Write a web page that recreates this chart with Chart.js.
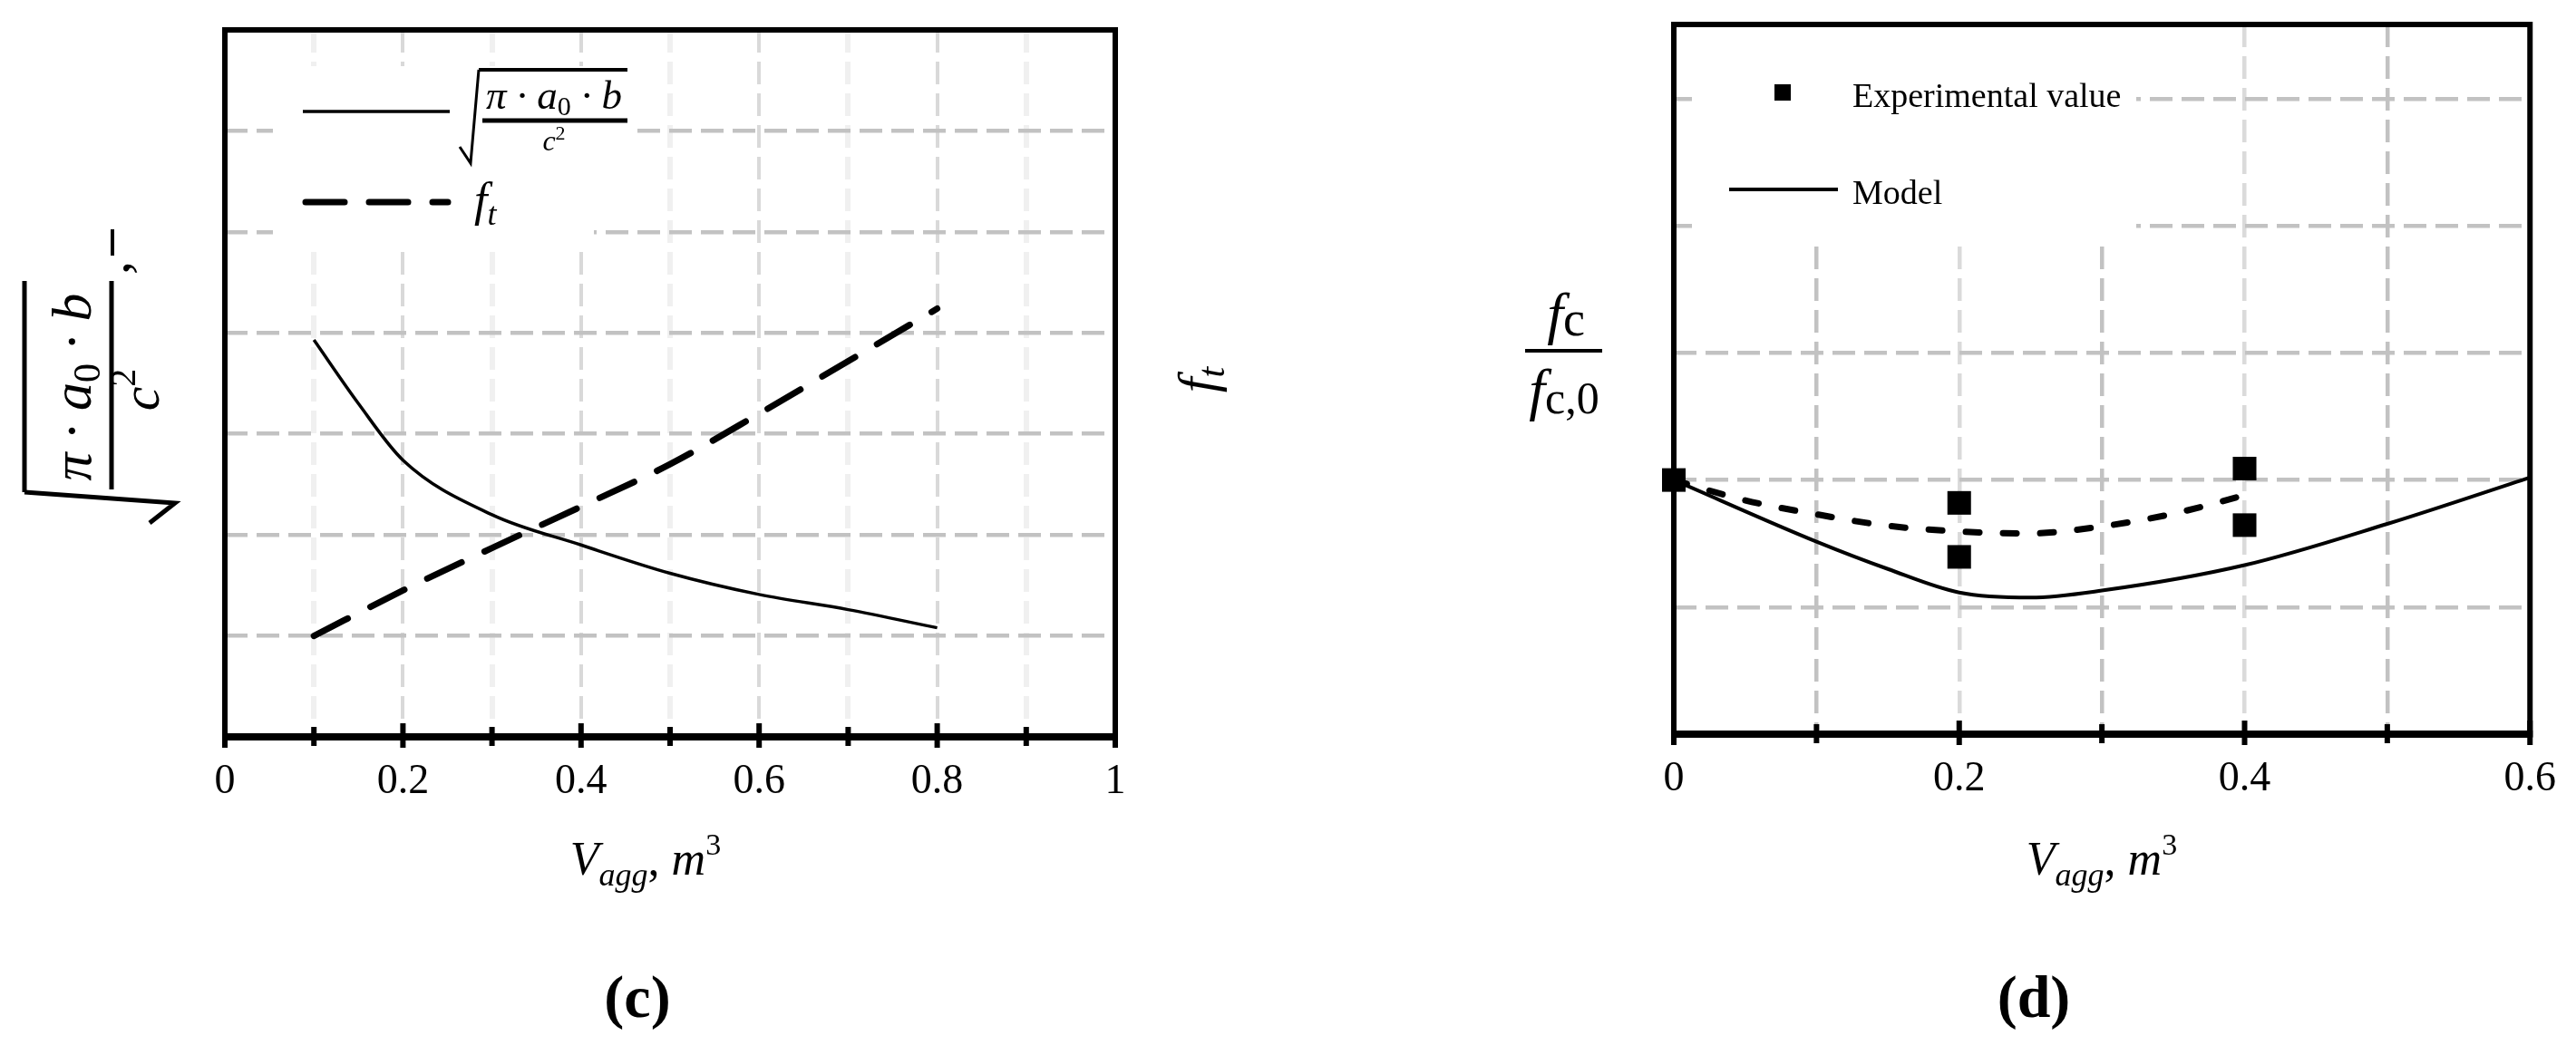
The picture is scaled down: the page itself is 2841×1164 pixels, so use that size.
<!DOCTYPE html>
<html>
<head>
<meta charset="utf-8">
<script src="https://cdn.jsdelivr.net/npm/chart.js@4.4.1/dist/chart.umd.min.js"></script>
<style>
  html, body { margin: 0; padding: 0; background: #fff; }
  #wrap { position: relative; width: 2841px; height: 1164px; overflow: hidden; background: #fff; }
  canvas { position: absolute; top: 0; }
  #chartC { left: 0; }
  #chartD { left: 1420px; }
</style>
</head>
<body>
<div id="wrap">
  <canvas id="chartC" width="1420" height="1164"></canvas>
  <canvas id="chartD" width="1421" height="1164"></canvas>
</div>
<script>
// (c) crack term and tensile strength vs aggregate volume
const cX = [0.1, 0.15, 0.2, 0.3, 0.4, 0.5, 0.6, 0.7, 0.8];
const cSqrtTerm = [3.93, 3.3, 2.74, 2.2, 1.9, 1.62, 1.41, 1.26, 1.08];
const cFtX = [0.1, 0.2, 0.3, 0.4, 0.5, 0.6, 0.7, 0.8];
const cFt = [1.0, 1.45, 1.87, 2.28, 2.7, 3.2, 3.72, 4.24];
const cTickLabels = ["0", "0.2", "0.4", "0.6", "0.8", "1"];

// (d) relative compressive strength
const dExpX = [0, 0.2, 0.2, 0.4, 0.4];
const dExpY = [1.0, 0.964, 0.879, 1.018, 0.929];
const dTrendX = [0, 0.05, 0.1, 0.15, 0.2, 0.25, 0.3, 0.35, 0.4];
const dTrendY = [1.0, 0.968, 0.946, 0.928, 0.919, 0.916, 0.927, 0.947, 0.976];
const dModelX = [0, 0.1, 0.15, 0.2, 0.25, 0.3, 0.4, 0.5, 0.6];
const dModelY = [1.0, 0.903, 0.86, 0.823, 0.815, 0.826, 0.866, 0.931, 1.004];
const dTickLabels = ["0", "0.2", "0.4", "0.6"];

const SERIF = '"Liberation Serif", "Times New Roman", serif';
const f = (size, style) => (style ? style + " " : "") + size + "px " + SERIF;

function xy(xs, ys) {
  return xs.map((x, i) => ({ x: x, y: ys[i] }));
}
function isEven(v) {
  return Math.round(v * 10) % 2 === 0;
}
function tickText(labels) {
  return (value) => {
    const s = String(Number(value.toFixed(2)));
    return labels.includes(s) ? s : "";
  };
}

// draws a row of text pieces: [text, font, dy]
function rich(ctx, parts, x, y, align) {
  let w = 0;
  parts.forEach((p) => { ctx.font = p[1]; w += ctx.measureText(p[0]).width; });
  let cx = align === "center" ? x - w / 2 : x;
  ctx.textAlign = "left";
  ctx.textBaseline = "alphabetic";
  parts.forEach((p) => {
    ctx.font = p[1];
    ctx.fillText(p[0], cx, y + (p[2] || 0));
    cx += ctx.measureText(p[0]).width;
  });
  return w;
}
function line(ctx, pts, width) {
  ctx.lineWidth = width;
  ctx.beginPath();
  ctx.moveTo(pts[0][0], pts[0][1]);
  for (let i = 1; i < pts.length; i++) ctx.lineTo(pts[i][0], pts[i][1]);
  ctx.stroke();
}

// frame, cross ticks and white legend patch
const framePlugin = {
  id: "frame",
  beforeDatasetsDraw(chart, args, opts) {
    const ctx = chart.ctx;
    const a = chart.chartArea;
    const xs = chart.scales.x;
    ctx.save();
    ctx.fillStyle = "#fff";
    (opts.boxes || []).forEach((b) => ctx.fillRect(b[0], b[1], b[2], b[3]));
    ctx.strokeStyle = "#000";
    ctx.lineWidth = 6;
    ctx.strokeRect(a.left, a.top, a.right - a.left, a.bottom - a.top);
    line(ctx, [[a.left - 3, a.bottom], [a.right + 3, a.bottom]], 8);
    xs.ticks.forEach((t) => {
      const px = xs.getPixelForValue(t.value);
      const major = isEven(t.value);
      line(ctx, [[px, a.bottom - (major ? 15 : 11)], [px, a.bottom + (major ? 12 : 10)]], 6);
    });
    ctx.restore();
  },
  afterDraw(chart, args, opts) {
    if (opts.extra) {
      const ctx = chart.ctx;
      ctx.save();
      ctx.fillStyle = "#000";
      ctx.strokeStyle = "#000";
      opts.extra(ctx, chart);
      ctx.restore();
    }
  }
};

function xTitle(ctx, cx) {
  rich(ctx, [["V", f(52, "italic")], ["agg", f(36, "italic"), 12], [", ", f(52)],
    ["m", f(52, "italic")], ["3", f(34), -22]], cx, 965, "center");
}

function baseOptions(o) {
  return {
    responsive: false,
    animation: false,
    devicePixelRatio: 1,
    events: [],
    layout: { padding: o.padding },
    plugins: {
      legend: { display: false },
      tooltip: { enabled: false },
      frame: { boxes: o.boxes, extra: o.extra }
    },
    scales: {
      x: {
        type: "linear",
        min: 0,
        max: o.xMax,
        afterFit: (s) => { s.height = o.xHeight; },
        border: { display: false, dash: [25, 10] },
        grid: {
          drawTicks: false,
          color: (c) => o.vColor(c.tick.value),
          lineWidth: (c) => o.vWidth(c.tick.value)
        },
        ticks: {
          stepSize: 0.1,
          autoSkip: false,
          maxRotation: 0,
          padding: 22,
          color: "#000",
          font: { family: SERIF, size: 46 },
          callback: tickText(o.tickLabels)
        }
      },
      y: {
        min: o.yMin,
        max: o.yMax,
        afterFit: (s) => { s.width = 0; },
        border: { display: false, dash: [25, 10] },
        grid: { drawTicks: false, color: "#c2c2c2", lineWidth: 4.5 },
        ticks: { display: false, stepSize: o.yStep }
      }
    }
  };
}

// ---------- chart (c) ----------
new Chart(document.getElementById("chartC"), {
  type: "line",
  data: {
    datasets: [
      {
        label: "sqrt(pi a0 b / c^2)",
        data: xy(cX, cSqrtTerm),
        borderColor: "#000",
        borderWidth: 3.5,
        pointRadius: 0,
        cubicInterpolationMode: "monotone"
      },
      {
        label: "f_t",
        data: xy(cFtX, cFt),
        borderColor: "#000",
        borderWidth: 7,
        borderDash: [42, 28],
        borderCapStyle: "round",
        pointRadius: 0,
        cubicInterpolationMode: "monotone"
      }
    ]
  },
  options: baseOptions({
    padding: { left: 248, top: 33, right: 190, bottom: 0 },
    xHeight: 351,
    xMax: 1,
    yMin: 0,
    yMax: 7,
    yStep: 1,
    tickLabels: cTickLabels,
    vColor: (v) => (isEven(v) ? "#d9d9d9" : "#f0f0f0"),
    vWidth: (v) => (isEven(v) ? 4 : 6),
    boxes: [[301, 73, 399, 160], [301, 230, 354, 43]],
    extra: (ctx) => {
      ctx.lineCap = "butt";
      // legend: solid line
      line(ctx, [[334, 123], [496, 123]], 3.5);
      line(ctx, [[507, 162], [519, 180], [528, 77]], 3);
      line(ctx, [[528, 77], [692, 77]], 4);
      rich(ctx, [["π · a", f(45, "italic")], ["0", f(30), 7], [" · b", f(45, "italic")]], 611, 120, "center");
      line(ctx, [[532, 133], [692, 133]], 5);
      rich(ctx, [["c", f(32, "italic")], ["2", f(22), -12]], 611, 166, "center");
      // legend: dashed line
      ctx.save();
      ctx.lineCap = "round";
      ctx.setLineDash([43, 27]);
      line(ctx, [[337, 223], [494, 223]], 7);
      ctx.restore();
      rich(ctx, [["f", f(52, "italic")], ["t", f(36, "italic"), 10]], 523, 238, "left");

      // left axis title, rotated
      ctx.save();
      ctx.translate(100, 415);
      ctx.rotate(-Math.PI / 2);
      rich(ctx, [["π · a", f(62, "italic")], ["0", f(42), 10], [" · b", f(62, "italic")]], -12, 0, "center");
      line(ctx, [[-125, 23], [105, 23]], 5);
      rich(ctx, [["c", f(60, "italic")], ["2", f(40), -26]], -15, 75, "center");
      line(ctx, [[-128, -73], [105, -73]], 5);
      line(ctx, [[-128, -73], [-140, 93], [-162, 65]], 5);
      rich(ctx, [[",", f(60)]], 112, 42, "left");
      line(ctx, [[133, 24], [162, 24]], 4);
      ctx.restore();

      // right axis title, rotated
      ctx.save();
      ctx.translate(1325, 419);
      ctx.rotate(-Math.PI / 2);
      rich(ctx, [["f", f(60, "italic")], ["t", f(42, "italic"), 10]], 0, 15, "center");
      ctx.restore();

      xTitle(ctx, 712);
      ctx.textAlign = "center";
      ctx.font = f(66, "bold");
      ctx.fillText("(c)", 703, 1122);
    }
  }),
  plugins: [framePlugin]
});

// ---------- chart (d) ----------
new Chart(document.getElementById("chartD"), {
  type: "line",
  data: {
    datasets: [
      {
        label: "Experimental value",
        data: xy(dExpX, dExpY),
        showLine: false,
        pointStyle: "rect",
        pointRadius: 18.4,
        pointBorderWidth: 0,
        pointBackgroundColor: "#000",
        clip: false
      },
      {
        label: "Trend",
        data: xy(dTrendX, dTrendY),
        borderColor: "#000",
        borderWidth: 7,
        borderDash: [15, 26],
        borderCapStyle: "round",
        pointRadius: 0,
        cubicInterpolationMode: "monotone"
      },
      {
        label: "Model",
        data: xy(dModelX, dModelY),
        borderColor: "#000",
        borderWidth: 4,
        pointRadius: 0,
        cubicInterpolationMode: "monotone"
      }
    ]
  },
  options: baseOptions({
    padding: { left: 426, top: 27, right: 48, bottom: 0 },
    xHeight: 354,
    xMax: 0.6,
    yMin: 0.6,
    yMax: 1.717,
    yStep: 0.2,
    tickLabels: dTickLabels,
    vColor: (v) => (isEven(v) ? "#dadada" : "#c2c2c2"),
    vWidth: () => 4.5,
    boxes: [[446, 30, 490, 234]],
    extra: (ctx) => {
      // legend
      ctx.fillRect(546 - 9, 102 - 9, 18, 18);
      rich(ctx, [["Experimental value", f(38)]], 623, 118, "left");
      line(ctx, [[487, 209], [607, 209]], 4);
      rich(ctx, [["Model", f(38)]], 623, 225, "left");

      // y title fraction
      rich(ctx, [["f", f(64, "italic")], ["c", f(54), 3]], 307, 367, "center");
      line(ctx, [[262, 387], [347, 387]], 4);
      rich(ctx, [["f", f(64, "italic")], ["c,0", f(50), 5]], 305, 451, "center");

      xTitle(ctx, 898);
      ctx.textAlign = "center";
      ctx.font = f(66, "bold");
      ctx.fillText("(d)", 823, 1122);
    }
  }),
  plugins: [framePlugin]
});
</script>
</body>
</html>
